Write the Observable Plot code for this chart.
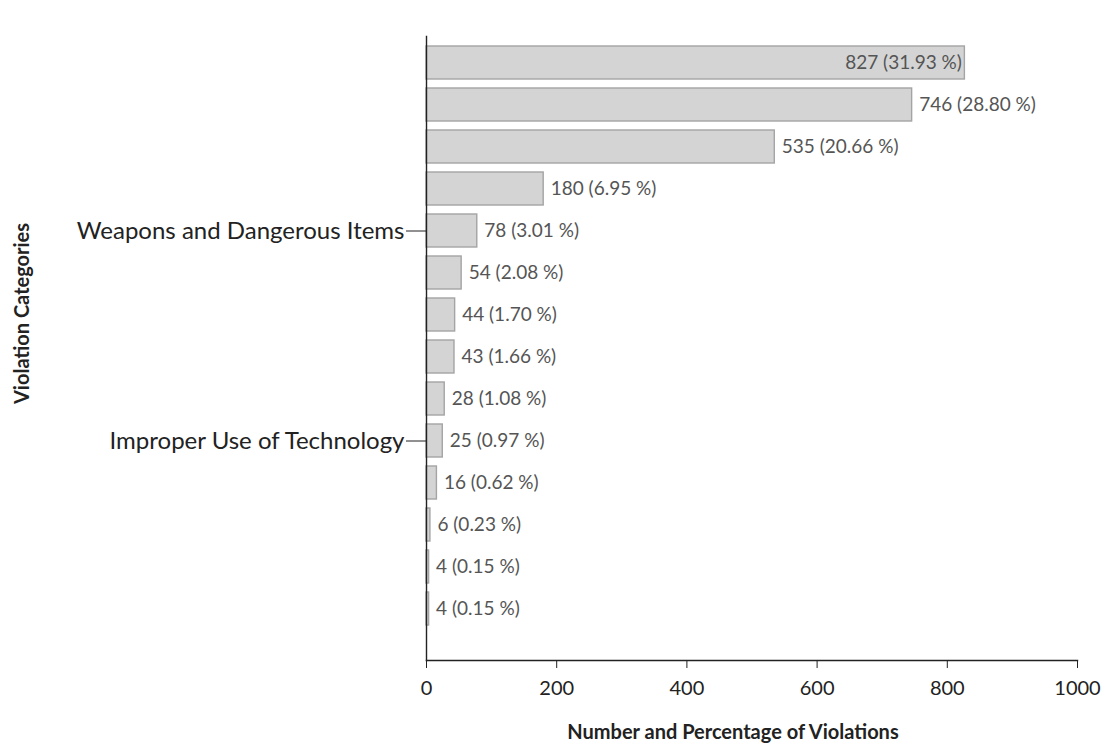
<!DOCTYPE html>
<html>
<head>
<meta charset="utf-8">
<script src="https://cdn.jsdelivr.net/npm/d3@7"></script>
<script src="https://cdn.jsdelivr.net/npm/@observablehq/plot@0.6"></script>
<style>
  html, body { margin: 0; padding: 0; background: white; }
</style>
</head>
<body>
<div id="chart"></div>
<script>
const categories = [
  "Category 1", "Category 2", "Category 3", "Category 4",
  "Weapons and Dangerous Items",
  "Category 6", "Category 7", "Category 8", "Category 9",
  "Improper Use of Technology",
  "Category 11", "Category 12", "Category 13", "Category 14"
];
const counts = [827, 746, 535, 180, 78, 54, 44, 43, 28, 25, 16, 6, 4, 4];
const percents = [31.93, 28.80, 20.66, 6.95, 3.01, 2.08, 1.70, 1.66, 1.08, 0.97, 0.62, 0.23, 0.15, 0.15];
const labeledCategories = ["Weapons and Dangerous Items", "Improper Use of Technology"];
const xTicks = [0, 200, 400, 600, 800, 1000];
const xTitle = "Number and Percentage of Violations";
const yTitle = "Violation Categories";

const data = categories.map((c, i) => ({category: c, count: counts[i], pct: percents[i]}));
const maxCount = d3.max(counts);
const fmt = d => `${d.count} (${d.pct.toFixed(2)} %)`;

const chart = Plot.plot({
  width: 1103,
  height: 748,
  marginLeft: 426,
  marginRight: 26,
  marginTop: 36,
  marginBottom: 88,
  style: {fontFamily: "Lato, 'Open Sans', sans-serif", background: "white", color: "#222"},
  x: {domain: [0, 1000]},
  y: {domain: categories, range: [30, 641], padding: 0.21},
  marks: [
    Plot.barX(data, {x: "count", y: "category", fill: "#d4d4d4", stroke: "#a4a4a4", strokeWidth: 1.4}),
    Plot.text(data.filter(d => d.count < maxCount), {
      x: "count", y: "category", text: fmt, textAnchor: "start", dx: 7,
      fontSize: 19, fill: "#555"
    }),
    Plot.text(data.filter(d => d.count === maxCount), {
      x: "count", y: "category", text: fmt, textAnchor: "end", dx: -3,
      fontSize: 19, fill: "#555"
    }),
    Plot.axisX({ticks: xTicks, tickFormat: d => String(d), tickSize: 8, tickPadding: 12, fontSize: 20, label: null, stroke: "#222"}),
    Plot.axisY({ticks: labeledCategories, tickSize: 20, tickPadding: 2, fontSize: 24, label: null}),
    Plot.frame({anchor: "left", stroke: "#222", strokeWidth: 1.4}),
    Plot.frame({anchor: "bottom", stroke: "#222", strokeWidth: 1.4}),
    Plot.text([xTitle], {frameAnchor: "bottom", dx: -19, dy: 78, fontSize: 20, fontWeight: "bold", fill: "#222"}),
    Plot.text([yTitle], {frameAnchor: "left", textAnchor: "middle", dx: -404, dy: -35, rotate: -90, fontSize: 20, fontWeight: "bold", fill: "#222"})
  ]
});
document.getElementById("chart").appendChild(chart);
</script>
</body>
</html>
